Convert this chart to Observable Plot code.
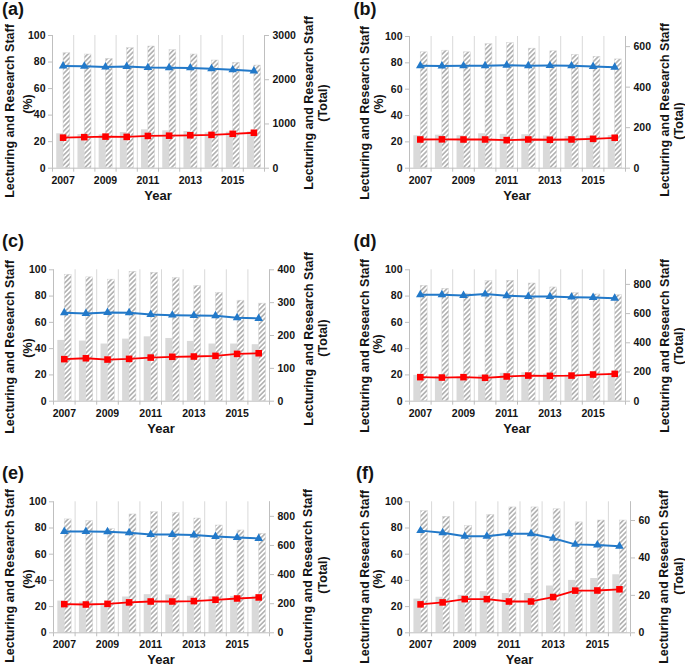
<!DOCTYPE html>
<html>
<head>
<meta charset="utf-8">
<script src="https://cdn.jsdelivr.net/npm/d3@7"></script>
<script src="https://cdn.jsdelivr.net/npm/@observablehq/plot@0.6"></script>
<style>
  html, body { margin: 0; padding: 0; background: #fff; }
  #chart { position: relative; width: 685px; height: 670px; overflow: hidden; background: #fff; }
  #chart svg { position: absolute; }
</style>
</head>
<body>
<div id="chart"></div>
<script>
// ---- data ----
const years = [2007, 2008, 2009, 2010, 2011, 2012, 2013, 2014, 2015, 2016];
const yearLabels = [2007, 2009, 2011, 2013, 2015];
const pctTicks = [0, 20, 40, 60, 80, 100];

// (a)
const aMalePct   = [77, 76.8, 76.3, 76.7, 75.8, 75.7, 75.6, 75, 74.1, 73.3];
const aFemalePct = [23, 23.4, 23.8, 23.6, 24.3, 24.5, 24.8, 25.1, 25.9, 26.7];
const aMale      = [2600, 2570, 2472, 2713, 2751, 2668, 2570, 2435, 2382, 2321];
const aFemale    = [778, 760, 755, 807, 868, 845, 830, 800, 815, 820];
const aTicks     = [0, 1000, 2000, 3000];
const aMax       = 3000;

// (b)
const bMalePct   = [77.8, 77.6, 77.7, 77.8, 78.2, 77.8, 77.9, 77.7, 77.3, 76.6];
const bFemalePct = [21.8, 21.9, 21.8, 21.8, 21.3, 21.8, 21.6, 21.8, 22.3, 23.1];
const bMale      = [572, 580, 572, 612, 617, 590, 577, 559, 550, 537];
const bFemale    = [160, 163, 160, 170, 167, 165, 159, 157, 158, 161];
const bTicks     = [0, 200, 400, 600];
const bMax       = 650;

// (c)
const cMalePct   = [67.3, 66.8, 67.5, 67.3, 66, 65.5, 65.2, 65, 63.5, 63];
const cFemalePct = [32, 32.7, 31.7, 32.2, 33.2, 33.8, 34, 34.5, 36, 36.5];
const cMale      = [385, 377, 370, 394, 391, 375, 351, 330, 306, 297];
const cFemale    = [185, 183, 174, 189, 196, 191, 182, 174, 174, 172];
const cTicks     = [0, 100, 200, 300, 400];
const cMax       = 400;

// (d)
const dMalePct   = [81, 81, 80.5, 81.5, 80.2, 79.7, 79.7, 79.2, 79, 78.4];
const dFemalePct = [18.3, 18, 18.3, 17.8, 18.8, 19.5, 19.3, 19.5, 20.3, 20.8];
const dMale      = [790, 770, 735, 822, 825, 806, 779, 740, 731, 726];
const dFemale    = [177, 169, 165, 178, 191, 195, 186, 179, 186, 191];
const dTicks     = [0, 200, 400, 600, 800];
const dMax       = 900;

// (e)
const eMalePct   = [77.4, 77.4, 77.1, 76.3, 75, 75, 74.6, 73.5, 72.8, 72];
const eFemalePct = [21.9, 21.6, 22.1, 23.2, 23.9, 23.9, 24.2, 25.2, 26.2, 27];
const eMale      = [779, 767, 712, 813, 829, 824, 785, 737, 703, 680];
const eFemale    = [218, 211, 202, 246, 262, 260, 251, 248, 250, 252];
const eTicks     = [0, 200, 400, 600, 800];
const eMax       = 900;

// (f)
const fMalePct   = [78, 76.3, 73.7, 73.7, 75.6, 75.6, 72.2, 67.5, 67.1, 66.1];
const fFemalePct = [21.7, 23.2, 25.7, 25.7, 23.9, 23.9, 27.3, 32.2, 32.3, 33.2];
const fMale      = [65, 62, 57, 63, 67, 67, 66, 59, 60, 60];
const fFemale    = [18, 19, 20, 22, 21, 21, 25, 28, 29, 31];
const fTicks     = [0, 20, 40, 60];
const fMax       = 70;

const yLabelLeft = ["Lecturing and Research Staff", "(%)"];
const yLabelRight = ["Lecturing and Research Staff", "(Total)"];
const xLabel = "Year";

// ---- layout (absolute page px) ----
const panels = [
  {id: "a", malePct: aMalePct, femalePct: aFemalePct, male: aMale, female: aFemale, ticks: aTicks, max: aMax,
   ox: 0, oy: 0, w: 340, h: 225, left: 52, right: 264, top: 35, bottom: 167.7,
   lab: [13, 14.5], l1: [9.5, 111], l2: [28, 104], r1: [309, 103], r2: [323, 103]},
  {id: "b", malePct: bMalePct, femalePct: bFemalePct, male: bMale, female: bFemale, ticks: bTicks, max: bMax,
   ox: 340, oy: 0, w: 345, h: 225, left: 409, right: 625, top: 36, bottom: 167.7,
   lab: [365, 14.5], l1: [365, 113], l2: [379, 104], r1: [665, 110], r2: [679, 121]},
  {id: "c", malePct: cMalePct, femalePct: cFemalePct, male: cMale, female: cFemale, ticks: cTicks, max: cMax,
   ox: 0, oy: 225, w: 340, h: 230, left: 53, right: 269, top: 269.3, bottom: 400.7,
   lab: [13, 247], l1: [9.5, 347], l2: [28, 348], r1: [309, 339], r2: [323, 338]},
  {id: "d", malePct: dMalePct, femalePct: dFemalePct, male: dMale, female: dFemale, ticks: dTicks, max: dMax,
   ox: 340, oy: 225, w: 345, h: 230, left: 409, right: 625, top: 269.3, bottom: 400.7,
   lab: [365, 247], l1: [365, 346], l2: [378, 344], r1: [665, 346], r2: [679, 346]},
  {id: "e", malePct: eMalePct, femalePct: eFemalePct, male: eMale, female: eFemale, ticks: eTicks, max: eMax,
   ox: 0, oy: 455, w: 340, h: 215, left: 53, right: 269, top: 501.3, bottom: 632.3,
   lab: [13, 479], l1: [9.5, 576], l2: [28, 579], r1: [308, 576], r2: [323, 575]},
  {id: "f", malePct: fMalePct, femalePct: fFemalePct, male: fMale, female: fFemale, ticks: fTicks, max: fMax,
   ox: 340, oy: 455, w: 345, h: 215, left: 409, right: 630, top: 501.3, bottom: 632.3,
   lab: [365, 479], l1: [365, 577], l2: [378, 579], r1: [664, 577], r2: [679, 576]}
];

const blue = "#2279c9";
const red = "#ff0000";
const grey = "#d9d9d9";
const axisGrey = "#bfbfbf";
const textColor = "#141414";
const font = "'Liberation Sans', Arial, sans-serif";

const chart = document.getElementById("chart");

for (const p of panels) {
  const rows = years.map((yr, i) => ({
    i, year: yr,
    malePct: p.malePct[i], femalePct: p.femalePct[i],
    male: p.male[i], female: p.female[i]
  }));
  const max = p.max;
  const svg = Plot.plot({
    width: p.w,
    height: p.h,
    marginLeft: p.left - p.ox,
    marginRight: p.ox + p.w - p.right,
    marginTop: p.top - p.oy,
    marginBottom: p.oy + p.h - p.bottom,
    x: {domain: [0, years.length], axis: null},
    y: {domain: [0, 100], axis: null},
    style: {fontFamily: font, fontSize: "10.5px", fontWeight: "bold", color: textColor, background: "white", overflow: "visible"},
    marks: [
      Plot.ruleX(d3.range(years.length + 1), {stroke: grey, strokeWidth: 1}),
      Plot.rectY(rows, {x1: d => d.i + 0.2, x2: d => d.i + 0.52, y: d => d.female / max * 100, fill: grey}),
      Plot.rectY(rows, {x1: d => d.i + 0.52, x2: d => d.i + 0.84, y: d => d.male / max * 100,
                        fill: `url(#hatch-${p.id})`, stroke: "#d4d4d4", strokeWidth: 0.5}),
      Plot.ruleY([0], {stroke: axisGrey}),
      Plot.ruleX([0, years.length], {stroke: axisGrey}),
      Plot.axisY(pctTicks, {anchor: "left", tickSize: 4, tickPadding: 3, stroke: axisGrey, fill: textColor, label: null}),
      Plot.axisY(p.ticks.map(v => v / max * 100), {anchor: "right", tickSize: 4, tickPadding: 4, stroke: axisGrey, fill: textColor,
                  tickFormat: v => String(Math.round(v * max / 100)), label: null}),
      Plot.axisX(d3.range(years.length + 1), {anchor: "bottom", tickSize: 4, stroke: axisGrey, tickFormat: () => "", label: null}),
      Plot.axisX(yearLabels.map(y => years.indexOf(y) + 0.5), {anchor: "bottom", tickSize: 0, tickPadding: 8, fill: textColor,
                  tickFormat: v => String(years[Math.floor(v)]), label: null}),
      Plot.line(rows, {x: d => d.i + 0.5, y: "malePct", stroke: blue, strokeWidth: 2}),
      Plot.dot(rows, {x: d => d.i + 0.5, y: "malePct", symbol: "triangle", fill: blue, r: 3.2}),
      Plot.line(rows, {x: d => d.i + 0.5, y: "femalePct", stroke: red, strokeWidth: 1.8}),
      Plot.dot(rows, {x: d => d.i + 0.5, y: "femalePct", symbol: "square", fill: red, r: 3.7})
    ]
  });

  const s = d3.select(svg);
  s.style("left", p.ox + "px").style("top", p.oy + "px");
  const defs = s.insert("defs", ":first-child");
  const pat = defs.append("pattern")
    .attr("id", `hatch-${p.id}`)
    .attr("patternUnits", "userSpaceOnUse")
    .attr("width", 3.4)
    .attr("height", 3.4)
    .attr("patternTransform", "rotate(45)");
  pat.append("rect").attr("width", 3.4).attr("height", 3.4).attr("fill", "#ffffff");
  pat.append("line").attr("x1", 1.7).attr("y1", 0).attr("x2", 1.7).attr("y2", 3.4)
    .attr("stroke", "#959595").attr("stroke-width", 1.2);

  const g = s.append("g").attr("font-family", font).attr("font-weight", "bold").attr("fill", textColor);
  // panel label
  g.append("text").attr("x", p.lab[0] - p.ox).attr("y", p.lab[1] - p.oy)
    .attr("font-size", 18).text(`(${p.id})`);
  // x title
  g.append("text").attr("x", (p.left + p.right) / 2 - p.ox).attr("y", p.bottom + 32 - p.oy)
    .attr("text-anchor", "middle").attr("font-size", 13).text(xLabel);
  // rotated y titles
  const rot = (pos, txt) => g.append("text")
    .attr("transform", `translate(${pos[0] - p.ox},${pos[1] - p.oy}) rotate(-90)`)
    .attr("text-anchor", "middle").attr("dy", "0.35em").attr("font-size", 12.5)
    .text(txt);
  rot(p.l1, yLabelLeft[0]);
  rot(p.l2, yLabelLeft[1]);
  rot(p.r1, yLabelRight[0]);
  rot(p.r2, yLabelRight[1]);

  chart.appendChild(svg);
}
</script>
</body>
</html>
